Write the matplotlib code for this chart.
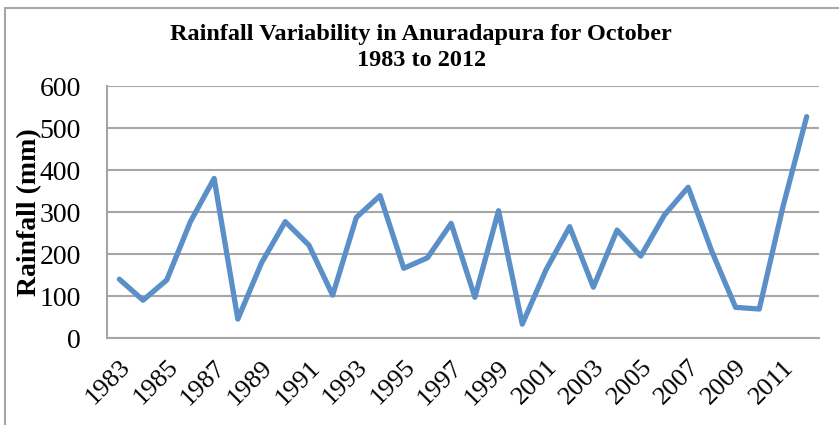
import matplotlib.pyplot as plt
from matplotlib.patches import Rectangle

plt.rcParams['font.family'] = ['Liberation Serif', 'DejaVu Serif']

# October rainfall, Anuradapura (mm)
years = list(range(1983, 2013))
rainfall = [140, 90, 138, 277, 380, 45, 179, 277, 221, 102,
            287, 339, 166, 191, 273, 97, 303, 33, 162, 265,
            121, 257, 195, 293, 359, 206, 73, 69, 313, 527]
yticks = [0, 100, 200, 300, 400, 500, 600]

fig = plt.figure(figsize=(8.39, 4.25), dpi=100)
ax = fig.add_axes([0.1281, 0.2047, 0.8475, 0.5929])

idx = list(range(len(years)))
ax.plot(idx, rainfall, color='#5A8FC8', lw=3.8, solid_joinstyle='round',
        solid_capstyle='round', zorder=3)

ax.set_xlim(-0.5, len(years) - 0.5)
ax.set_ylim(0, 600)
ax.set_yticks(yticks)
ax.set_yticklabels([str(v) for v in yticks], fontsize=20)
ax.set_xticks(idx[::2])
ax.set_xticklabels([str(y) for y in years[::2]], fontsize=19, rotation=45,
                   ha='right', rotation_mode='anchor')
ax.tick_params(axis='y', length=0, pad=19)
ax.tick_params(axis='x', length=0, pad=13)

ax.grid(axis='y', color='#A6A6A6', lw=1.5)
ax.set_axisbelow(True)
for s in ['top', 'right']:
    ax.spines[s].set_visible(False)
for s in ['left', 'bottom']:
    ax.spines[s].set_color('#A6A6A6')
    ax.spines[s].set_linewidth(1.5)

ax.set_ylabel('Rainfall (mm)', fontsize=20, fontweight='bold', labelpad=-2)
fig.text(0.502, 0.888, 'Rainfall Variability in Anuradapura for October\n1983 to 2012',
         ha='center', va='center', fontsize=17.5, fontweight='bold', linespacing=1.35)

# outer chart border
fig.patches.append(Rectangle((5 / 839, -0.05), 1.0, 1 - 8 / 425 + 0.05,
                             transform=fig.transFigure, fill=False,
                             edgecolor='#A6A6A6', lw=1.5))

fig.savefig('out.png', dpi=100)
